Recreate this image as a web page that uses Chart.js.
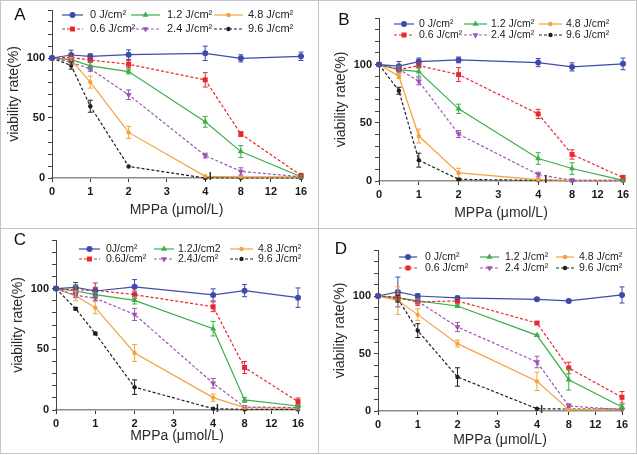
<!DOCTYPE html>
<html>
<head>
<meta charset="utf-8">
<script src="https://cdn.jsdelivr.net/npm/chart.js@4.4.1/dist/chart.umd.min.js"></script>
<style>
  body { margin: 0; background: #fff; }
  #wrap { position: relative; width: 637px; height: 455px; overflow: hidden; background: #fff; }
  .cell { position: absolute; }
  .cell canvas { display: block; }
  .rule { position: absolute; background: #c6c6c6; }
</style>
</head>
<body>
<div id="wrap">
  <div class="cell" style="left:0;top:0"><canvas id="cA" width="318" height="228"></canvas></div>
  <div class="cell" style="left:318px;top:0"><canvas id="cB" width="318" height="228"></canvas></div>
  <div class="cell" style="left:0;top:228px"><canvas id="cC" width="318" height="225"></canvas></div>
  <div class="cell" style="left:318px;top:228px"><canvas id="cD" width="318" height="225"></canvas></div>
  <div class="rule" style="left:0;top:0;width:637px;height:1px"></div>
  <div class="rule" style="left:0;top:453px;width:637px;height:1px"></div>
  <div class="rule" style="left:0;top:0;width:1px;height:454px"></div>
  <div class="rule" style="left:636px;top:0;width:1px;height:454px"></div>
  <div class="rule" style="left:318px;top:0;width:1px;height:454px"></div>
  <div class="rule" style="left:0;top:228px;width:637px;height:1px"></div>
</div>
<script>
// MPPa concentration (µmol/L)
const doses = [0, 0.5, 1, 2, 4, 8, 16];
const xTickValues = [0, 1, 2, 3, 4, 8, 12, 16];
const yLabelled = [0, 50, 100];

// series order: 0, 0.6, 1.2, 2.4, 4.8, 9.6 J/cm2
const fluenceLabels = ['0 J/cm²', '0.6 J/cm²', '1.2 J/cm²', '2.4 J/cm²', '4.8 J/cm²', '9.6 J/cm²'];
const fluenceLabelsC = ['0J/cm²', '0.6J/cm²', '1.2J/cm2', '2.4J/cm²', '4.8 J/cm²', '9.6 J/cm²'];

const meanA = [
  [100, 102.5, 101.4, 102.8, 103.9, 99.7, 101.4],
  [100, 100.5, 98.3, 94.8, 81.8, 36.6, 2.2],
  [100, 98.6, 93.4, 88.7, 46.8, 22, 1],
  [100, 96.4, 90.9, 69.4, 18.7, 5.5, 1],
  [100, 98.3, 79.9, 38, 1.4, 1, 1],
  [100, 93.7, 59.8, 9.6, 0, 0, 0]
];
const errA = [
  [0, 4, 2, 4, 6, 3, 3.5],
  [0, 2, 2, 3, 6, 2, 1],
  [0, 2, 3, 2, 4.5, 5, 1],
  [0, 2, 2, 4, 2, 3, 0],
  [0, 2, 5, 5, 0, 0, 0],
  [0, 3, 5, 0, 0, 0, 0]
];

const meanB = [
  [100, 98.6, 102.6, 104, 101.7, 98, 100.6],
  [100, 95.7, 99.1, 91.4, 57.6, 22.8, 2.9],
  [100, 95.7, 94, 62, 19.3, 10.7, 0.6],
  [100, 96, 85.6, 40.3, 5.5, 0.6, 0.6],
  [100, 90, 38.6, 6.9, 1.2, 0.6, 0.6],
  [100, 77.5, 17.9, 1.4, 0.6, 0.3, 0.3]
];
const errB = [
  [0, 4, 3, 2.5, 3.5, 3.5, 5],
  [0, 2, 2, 6, 4, 4, 2],
  [0, 3, 4, 4, 5, 5, 1],
  [0, 2, 3, 3, 2, 1, 0],
  [0, 2, 6, 4, 1, 0, 0],
  [0, 3, 6, 1, 0, 0, 0]
];

const meanC = [
  [100, 101, 98, 101.4, 94.8, 98.3, 92.5],
  [100, 98.9, 98.6, 95, 85, 35, 6.9],
  [100, 98, 95, 90.3, 67, 8.3, 3.3],
  [100, 94.5, 92, 78.7, 22, 2.5, 2],
  [100, 94, 84.3, 47, 10.2, 2, 1.4],
  [100, 83.4, 63, 18.8, 1.1, 0.5, 0.5]
];
const errC = [
  [0, 4, 3, 6, 5, 5, 8],
  [0, 3, 6, 3, 4, 5, 3],
  [0, 5, 2, 3, 6, 2, 1],
  [0, 2, 2, 5, 4, 1, 0],
  [0, 4, 5, 7, 3, 1, 0],
  [0, 1, 1, 6, 0, 0, 0]
];

const meanD = [
  [100, 103.5, 100, 98.3, 97.1, 95.7, 100.9],
  [100, 99.1, 94.8, 95.7, 76.5, 37.4, 11.9],
  [100, 98.3, 95.7, 91.3, 65.8, 27.2, 3.5],
  [100, 98, 95.4, 73, 42.6, 4.3, 1.2],
  [100, 96, 83.8, 58.6, 25.8, 1.2, 1.2],
  [100, 97.7, 69.9, 29.6, 2, 1.7, 1.7]
];
const errD = [
  [0, 13, 2, 1.5, 1, 1, 7],
  [0, 3, 3, 2, 1, 5, 5],
  [0, 3, 2, 1, 1, 9, 2],
  [0, 2, 2, 4, 5, 2, 0],
  [0, 12, 5, 3, 8, 1, 0],
  [0, 3, 6, 8, 0, 0, 0]
];

const colors = ['#3d4cab', '#e8282e', '#3cae48', '#9c55b4', '#f4a23c', '#1f1f1f'];
const dashes = [[], [3, 2], [], [3, 2], [], [3, 2]];
const shapes = ['circle', 'rect', 'triangle', 'triangle', 'circle', 'circle'];
const rotations = [0, 0, 0, 180, 0, 0];
const radii = [3, 3.5, 3.5, 3.5, 2.2, 2.2];

const Y_W = 46;

// broken x axis: 0..4 linear, then 4..16 compressed after the break
function makeTx(g, k) {
  return x => (x <= 4 ? x : 4 + g + (x - 4) / 4 * k);
}

function marker(ctx, i, x, y) {
  Chart.helpers.drawPoint(ctx, {
    pointStyle: shapes[i], radius: radii[i], rotation: rotations[i], borderWidth: 0
  }, x, y);
}

const panelPlugin = {
  id: 'panelExtras',
  afterDatasetsDraw(chart) {
    const ctx = chart.ctx;
    const ys = chart.scales.y;
    chart.data.datasets.forEach((ds, i) => {
      const meta = chart.getDatasetMeta(i);
      ctx.save();
      ctx.strokeStyle = ds.borderColor;
      ctx.lineWidth = 1;
      meta.data.forEach((pt, j) => {
        const e = ds.errors[j];
        if (!e) return;
        const v = ds.data[j].y;
        const y1 = ys.getPixelForValue(v + e);
        const y2 = ys.getPixelForValue(v - e);
        ctx.beginPath();
        ctx.moveTo(pt.x, y1); ctx.lineTo(pt.x, y2);
        ctx.moveTo(pt.x - 2.5, y1); ctx.lineTo(pt.x + 2.5, y1);
        ctx.moveTo(pt.x - 2.5, y2); ctx.lineTo(pt.x + 2.5, y2);
        ctx.stroke();
      });
      ctx.restore();
    });
  },
  afterDraw(chart) {
    const o = chart.options.plugins.panelExtras;
    const ctx = chart.ctx;
    const area = chart.chartArea;
    const xs = chart.scales.x;
    ctx.save();
    // axis break mark
    const bx = xs.getPixelForValue(4 + o.g * 0.9);
    ctx.strokeStyle = '#333';
    ctx.lineWidth = 1.5;
    ctx.beginPath();
    ctx.moveTo(bx, area.bottom - 6);
    ctx.lineTo(bx, area.bottom + 2);
    ctx.stroke();
    // panel letter
    ctx.fillStyle = '#111';
    ctx.font = '17px "Liberation Sans", Arial, sans-serif';
    ctx.textAlign = 'center';
    ctx.textBaseline = 'middle';
    ctx.fillText(o.letter, o.letterX, o.letterY);
    // legend, 3 columns x 2 rows
    ctx.font = o.legendFont + 'px "Liberation Sans", Arial, sans-serif';
    ctx.textAlign = 'left';
    chart.data.datasets.forEach((ds, i) => {
      const col = o.cols[i >> 1];
      const y = area.top + o.rows[i & 1];
      const x0 = area.left + col[0], x1 = area.left + col[1];
      ctx.strokeStyle = colors[i];
      ctx.fillStyle = colors[i];
      ctx.lineWidth = 1.2;
      ctx.setLineDash(dashes[i]);
      ctx.beginPath();
      ctx.moveTo(x0, y); ctx.lineTo(x1, y);
      ctx.stroke();
      ctx.setLineDash([]);
      marker(ctx, i, (x0 + x1) / 2, y);
      ctx.fillStyle = '#222';
      ctx.fillText(ds.label, area.left + col[2], y);
    });
    ctx.restore();
  }
};

function makePanel(id, letter, means, errs, labels, geo) {
  const tx = makeTx(geo.g, geo.k);
  const W = geo.W, H = geo.H;
  const xH = geo.titleOff + 8.4;
  const datasets = means.map((vals, i) => ({
    label: labels[i],
    data: doses.map((d, j) => ({ x: tx(d), y: vals[j] })),
    errors: errs[i],
    borderColor: colors[i],
    backgroundColor: colors[i],
    borderWidth: 1.2,
    borderDash: dashes[i],
    pointStyle: shapes[i],
    pointRotation: rotations[i],
    pointRadius: radii[i],
    pointBorderWidth: 0,
    tension: 0,
    clip: false
  }));
  new Chart(document.getElementById(id), {
    type: 'line',
    data: { datasets: datasets },
    options: {
      responsive: false,
      animation: false,
      events: [],
      layout: {
        padding: {
          left: geo.left - Y_W,
          right: W - geo.right,
          top: geo.top,
          bottom: H - geo.bottom - xH
        }
      },
      plugins: {
        legend: { display: false },
        tooltip: { enabled: false },
        panelExtras: {
          letter: letter, letterX: geo.letterX, letterY: geo.letterY, g: geo.g,
          cols: geo.cols, rows: geo.rows, legendFont: geo.legendFont
        }
      },
      scales: {
        x: {
          type: 'linear',
          min: 0,
          max: tx(16),
          afterBuildTicks: s => { s.ticks = xTickValues.map(v => ({ value: tx(v) })); },
          afterFit: s => { s.height = xH; s.paddingLeft = 0; s.paddingRight = 0; },
          ticks: {
            autoSkip: false,
            maxRotation: 0,
            padding: 3,
            color: '#1a1a1a',
            font: { family: '"Liberation Sans", Arial, sans-serif', size: 11, weight: 'bold' },
            callback: (v, idx) => String(xTickValues[idx])
          },
          grid: { drawOnChartArea: false, tickLength: 4, color: '#333', tickWidth: 1 },
          border: { color: '#8c8c8c', width: 1.6 },
          title: {
            display: true,
            text: 'MPPa (μmol/L)',
            color: '#2a2a2a',
            font: { family: '"Liberation Sans", Arial, sans-serif', size: 14 },
            padding: { top: 0, bottom: 0 }
          }
        },
        y: {
          min: 0,
          max: 140,
          afterFit: s => { s.width = Y_W; s.paddingTop = 0; s.paddingBottom = 0; },
          ticks: {
            stepSize: 10,
            autoSkip: false,
            padding: 3,
            color: '#1a1a1a',
            font: { family: '"Liberation Sans", Arial, sans-serif', size: 11, weight: 'bold' },
            callback: v => (yLabelled.includes(v) ? String(v) : '')
          },
          grid: { drawOnChartArea: false, tickLength: 4, color: '#444', tickWidth: 1 },
          border: { color: '#444', width: 1 },
          title: {
            display: true,
            text: 'viability rate(%)',
            color: '#2a2a2a',
            font: { family: '"Liberation Sans", Arial, sans-serif', size: 14 },
            padding: { top: 0, bottom: 0 }
          }
        }
      }
    },
    plugins: [panelPlugin]
  });
}

makePanel('cA', 'A', meanA, errA, fluenceLabels, {
  W: 318, H: 228, left: 52, right: 301, top: 10, bottom: 178, titleOff: 32,
  g: 0.145, k: 0.785, letterX: 20, letterY: 15, legendFont: 11,
  cols: [[10, 31, 38], [79, 108, 115], [162, 191, 196]], rows: [5, 19]
});
makePanel('cB', 'B', meanB, errB, fluenceLabels, {
  W: 318, H: 228, left: 61, right: 305, top: 18, bottom: 181, titleOff: 32,
  g: 0.21, k: 0.64, letterX: 26, letterY: 20, legendFont: 10.5,
  cols: [[15, 35, 40], [85, 108, 112], [160, 183, 187]], rows: [6, 17]
});
makePanel('cC', 'C', meanC, errC, fluenceLabelsC, {
  W: 318, H: 225, left: 56, right: 298, top: 12, bottom: 182, titleOff: 26,
  g: 0.12, k: 0.68, letterX: 20, letterY: 12, legendFont: 10.5,
  cols: [[23, 44, 50], [98, 118, 122], [174, 197, 202]], rows: [9, 19]
});
makePanel('cD', 'D', meanD, errD, fluenceLabels, {
  W: 318, H: 225, left: 60, right: 304, top: 22, bottom: 183, titleOff: 29,
  g: 0.13, k: 0.67, letterX: 23, letterY: 21, legendFont: 10.5,
  cols: [[21, 39, 47], [102, 121, 127], [178, 196, 201]], rows: [7, 18]
});
</script>
</body>
</html>
